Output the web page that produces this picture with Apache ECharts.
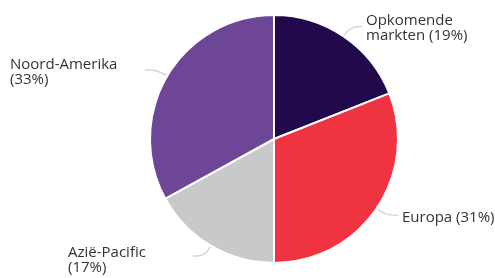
<!DOCTYPE html>
<html>
<head>
<meta charset="utf-8">
<script src="https://cdn.jsdelivr.net/npm/echarts@6/dist/echarts.min.js"></script>
<style>
  html, body { margin: 0; padding: 0; background: #fff; }
  #main { width: 495px; height: 278px; }
</style>
</head>
<body>
<div id="main"></div>
<script>
// regio's en aandelen (%)
var regions = ['Opkomende markten', 'Europa', 'Azië-Pacific', 'Noord-Amerika'];
var shares = [19, 31, 17, 33];
var colors = ['#22094b', '#ef3340', '#c8c9cb', '#6d4697'];

// plaats van de labels (linksboven-hoek van de tekst)
var labelPos = [[366, 13], [402, 210], [68, 245], [10, 57]];

var chart = echarts.init(document.getElementById('main'));

var data = [];
for (var i = 0; i < regions.length; i++) {
    data.push({ name: regions[i], value: shares[i], itemStyle: { color: colors[i] } });
}

var option = {
    animation: false,
    series: [{
        type: 'pie',
        center: [274, 139],
        radius: [0, 124],
        startAngle: 90,
        clockwise: true,
        data: data,
        itemStyle: {
            borderColor: '#fff',
            borderWidth: 2
        },
        label: {
            show: true,
            formatter: function (p) {
                if (p.dataIndex == 0) return 'Opkomende\nmarkten (' + p.value + '%)';
                if (p.dataIndex == 1) return p.name + ' (' + p.value + '%)';
                return p.name + '\n(' + p.value + '%)';
            },
            fontFamily: 'Open Sans',
            fontSize: 15,
            lineHeight: 15,
            color: '#333',
            overflow: 'none'
        },
        labelLine: {
            show: true,
            length: 12,
            length2: 12,
            smooth: 0.4,
            lineStyle: { color: '#d6d6d6', width: 1.5 }
        },
        labelLayout: function (p) {
            var pos = labelPos[p.dataIndex];
            return {
                x: pos[0],
                y: pos[1],
                align: 'left',
                verticalAlign: 'top',
                labelLinePoints: p.labelLinePoints
            };
        }
    }]
};
chart.setOption(option);
</script>
</body>
</html>
